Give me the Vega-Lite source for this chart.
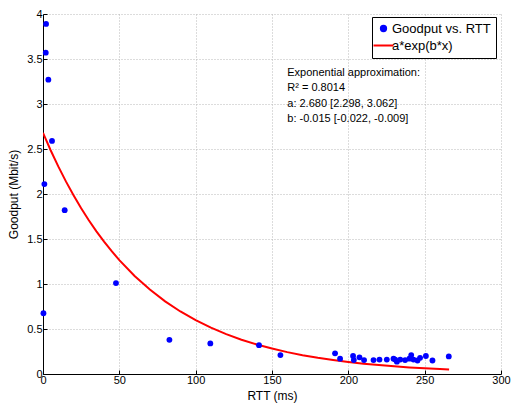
{
  "$schema": "https://vega.github.io/schema/vega-lite/v6.json",
  "width": 458,
  "height": 360,
  "autosize": {"type": "none"},
  "padding": {"left": 43, "top": 14, "right": 11, "bottom": 34},
  "background": "white",
  "config": {
    "font": "Liberation Sans",
    "view": {"stroke": null},
    "axis": {
      "domainColor": "black",
      "tickColor": "black",
      "tickSize": -4,
      "labelColor": "black",
      "titleColor": "black",
      "labelFontSize": 11,
      "titleFontSize": 12,
      "titleFontWeight": "normal",
      "gridColor": "#b8b8b8",
      "gridDash": [1, 2],
      "gridWidth": 1,
      "format": "~r"
    }
  },
  "datasets": {
    "pts": [
      {"rtt": 2.0, "goodput": 3.89, "series": "Goodput vs. RTT"},
      {"rtt": 1.8, "goodput": 3.57, "series": "Goodput vs. RTT"},
      {"rtt": 3.5, "goodput": 3.27, "series": "Goodput vs. RTT"},
      {"rtt": 5.9, "goodput": 2.59, "series": "Goodput vs. RTT"},
      {"rtt": 0.9, "goodput": 2.11, "series": "Goodput vs. RTT"},
      {"rtt": 14.2, "goodput": 1.82, "series": "Goodput vs. RTT"},
      {"rtt": 47.8, "goodput": 1.01, "series": "Goodput vs. RTT"},
      {"rtt": 0.3, "goodput": 0.675, "series": "Goodput vs. RTT"},
      {"rtt": 82.8, "goodput": 0.38, "series": "Goodput vs. RTT"},
      {"rtt": 109.6, "goodput": 0.34, "series": "Goodput vs. RTT"},
      {"rtt": 141.5, "goodput": 0.32, "series": "Goodput vs. RTT"},
      {"rtt": 155.5, "goodput": 0.21, "series": "Goodput vs. RTT"},
      {"rtt": 191.3, "goodput": 0.23, "series": "Goodput vs. RTT"},
      {"rtt": 194.6, "goodput": 0.17, "series": "Goodput vs. RTT"},
      {"rtt": 203.1, "goodput": 0.2, "series": "Goodput vs. RTT"},
      {"rtt": 203.6, "goodput": 0.155, "series": "Goodput vs. RTT"},
      {"rtt": 207.3, "goodput": 0.185, "series": "Goodput vs. RTT"},
      {"rtt": 210.3, "goodput": 0.155, "series": "Goodput vs. RTT"},
      {"rtt": 216.5, "goodput": 0.155, "series": "Goodput vs. RTT"},
      {"rtt": 220.4, "goodput": 0.16, "series": "Goodput vs. RTT"},
      {"rtt": 225.2, "goodput": 0.16, "series": "Goodput vs. RTT"},
      {"rtt": 229.6, "goodput": 0.17, "series": "Goodput vs. RTT"},
      {"rtt": 230.7, "goodput": 0.16, "series": "Goodput vs. RTT"},
      {"rtt": 231.8, "goodput": 0.137, "series": "Goodput vs. RTT"},
      {"rtt": 234.0, "goodput": 0.16, "series": "Goodput vs. RTT"},
      {"rtt": 237.2, "goodput": 0.155, "series": "Goodput vs. RTT"},
      {"rtt": 240.0, "goodput": 0.17, "series": "Goodput vs. RTT"},
      {"rtt": 241.2, "goodput": 0.21, "series": "Goodput vs. RTT"},
      {"rtt": 242.7, "goodput": 0.16, "series": "Goodput vs. RTT"},
      {"rtt": 245.3, "goodput": 0.15, "series": "Goodput vs. RTT"},
      {"rtt": 247.0, "goodput": 0.18, "series": "Goodput vs. RTT"},
      {"rtt": 250.8, "goodput": 0.2, "series": "Goodput vs. RTT"},
      {"rtt": 255.1, "goodput": 0.15, "series": "Goodput vs. RTT"},
      {"rtt": 265.8, "goodput": 0.195, "series": "Goodput vs. RTT"}
    ],
    "fit": [
      {"rtt": 0, "goodput": 2.680, "series": "a*exp(b*x)"},
      {"rtt": 5, "goodput": 2.4863, "series": "a*exp(b*x)"},
      {"rtt": 10, "goodput": 2.3067, "series": "a*exp(b*x)"},
      {"rtt": 15, "goodput": 2.1400, "series": "a*exp(b*x)"},
      {"rtt": 20, "goodput": 1.9854, "series": "a*exp(b*x)"},
      {"rtt": 25, "goodput": 1.8419, "series": "a*exp(b*x)"},
      {"rtt": 30, "goodput": 1.7088, "series": "a*exp(b*x)"},
      {"rtt": 35, "goodput": 1.5854, "series": "a*exp(b*x)"},
      {"rtt": 40, "goodput": 1.4708, "series": "a*exp(b*x)"},
      {"rtt": 45, "goodput": 1.3645, "series": "a*exp(b*x)"},
      {"rtt": 50, "goodput": 1.2659, "series": "a*exp(b*x)"},
      {"rtt": 60, "goodput": 1.0896, "series": "a*exp(b*x)"},
      {"rtt": 70, "goodput": 0.9378, "series": "a*exp(b*x)"},
      {"rtt": 80, "goodput": 0.8072, "series": "a*exp(b*x)"},
      {"rtt": 90, "goodput": 0.6948, "series": "a*exp(b*x)"},
      {"rtt": 100, "goodput": 0.5980, "series": "a*exp(b*x)"},
      {"rtt": 110, "goodput": 0.5147, "series": "a*exp(b*x)"},
      {"rtt": 120, "goodput": 0.4430, "series": "a*exp(b*x)"},
      {"rtt": 130, "goodput": 0.3813, "series": "a*exp(b*x)"},
      {"rtt": 140, "goodput": 0.3282, "series": "a*exp(b*x)"},
      {"rtt": 150, "goodput": 0.2825, "series": "a*exp(b*x)"},
      {"rtt": 160, "goodput": 0.2431, "series": "a*exp(b*x)"},
      {"rtt": 170, "goodput": 0.2093, "series": "a*exp(b*x)"},
      {"rtt": 180, "goodput": 0.1801, "series": "a*exp(b*x)"},
      {"rtt": 190, "goodput": 0.1550, "series": "a*exp(b*x)"},
      {"rtt": 200, "goodput": 0.1334, "series": "a*exp(b*x)"},
      {"rtt": 210, "goodput": 0.1148, "series": "a*exp(b*x)"},
      {"rtt": 220, "goodput": 0.0988, "series": "a*exp(b*x)"},
      {"rtt": 230, "goodput": 0.0851, "series": "a*exp(b*x)"},
      {"rtt": 240, "goodput": 0.0732, "series": "a*exp(b*x)"},
      {"rtt": 250, "goodput": 0.0630, "series": "a*exp(b*x)"},
      {"rtt": 260, "goodput": 0.0542, "series": "a*exp(b*x)"},
      {"rtt": 266, "goodput": 0.0496, "series": "a*exp(b*x)"}
    ],
    "note": [
      {"rtt": 160, "goodput": 3.345, "label": "Exponential approximation:"},
      {"rtt": 160, "goodput": 3.18, "label": "R² = 0.8014"},
      {"rtt": 160, "goodput": 3.0, "label": "a: 2.680 [2.298, 3.062]"},
      {"rtt": 160, "goodput": 2.83, "label": "b: -0.015 [-0.022, -0.009]"}
    ]
  },
  "encoding": {
    "x": {
      "field": "rtt", "type": "quantitative",
      "scale": {"domain": [0, 300], "nice": false, "zero": false},
      "axis": {"values": [0, 50, 100, 150, 200, 250, 300], "title": "RTT (ms)", "labelPadding": 4, "titleY": 21, "titleBaseline": "middle", "labelFlush": false}
    },
    "y": {
      "field": "goodput", "type": "quantitative",
      "scale": {"domain": [0, 4], "nice": false},
      "axis": {"values": [0, 0.5, 1, 1.5, 2, 2.5, 3, 3.5, 4], "title": "Goodput (Mbit/s)", "labelPadding": 5, "titleX": -30, "titleY": 180, "titleBaseline": "middle", "labelFlush": false}
    }
  },
  "layer": [
    {
      "data": {"name": "fit"},
      "mark": {"type": "line", "strokeWidth": 2, "clip": true},
      "encoding": {
        "color": {
          "field": "series", "type": "nominal",
          "scale": {"domain": ["Goodput vs. RTT", "a*exp(b*x)"], "range": ["#0000ff", "#ff0000"]},
          "legend": {
            "title": null,
            "orient": "none",
            "legendX": 329,
            "legendY": 3,
            "strokeColor": "black",
            "fillColor": "white",
            "padding": 5,
            "labelFontSize": 13,
            "labelColor": "black",
            "rowPadding": 3,
            "symbolSize": 400,
            "labelOffset": 2,
            "encode": {
              "symbols": {
                "update": {
                  "shape": {"signal": "datum.label === 'a*exp(b*x)' ? 'stroke' : 'circle'"},
                  "stroke": {"signal": "datum.label === 'a*exp(b*x)' ? '#ff0000' : 'transparent'"},
                  "fill": {"signal": "datum.label === 'a*exp(b*x)' ? 'transparent' : '#0000ff'"},
                  "strokeWidth": {"value": 2},
                  "size": {"signal": "datum.label === 'a*exp(b*x)' ? 400 : 28"},
                  "opacity": {"value": 1}
                }
              }
            }
          }
        }
      }
    },
    {
      "data": {"name": "pts"},
      "mark": {"type": "point", "filled": true, "size": 34, "opacity": 1},
      "encoding": {
        "color": {"field": "series", "type": "nominal"}
      }
    },
    {
      "data": {"name": "note"},
      "mark": {"type": "text", "align": "left", "baseline": "middle", "fontSize": 11, "color": "black"},
      "encoding": {
        "text": {"field": "label"}
      }
    }
  ]
}
